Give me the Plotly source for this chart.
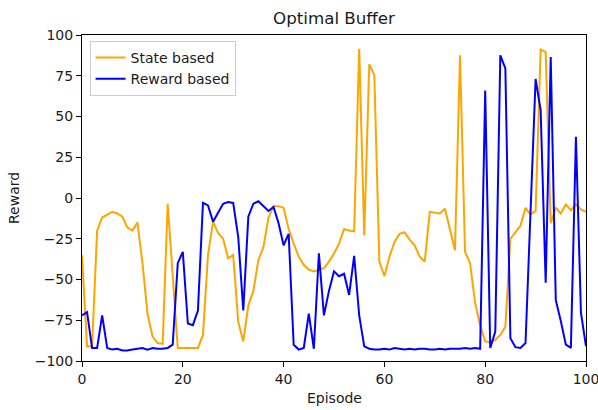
import plotly.graph_objects as go

# Episode index and per-episode reward of the two agents
episodes = list(range(101))

state_based = [
    -35, -91, -91, -20, -12, -10, -8.5, -9.5, -11.5, -18,
    -20, -15, -40, -71, -85, -89, -89.5, -3.5, -50, -92,
    -92, -92, -92, -92, -84, -35, -14.5, -21.5, -25, -37,
    -35, -76, -88, -66, -57, -38, -30, -12, -5, -5,
    -6, -19, -28, -36, -41, -44, -45, -44, -43, -39,
    -34, -28, -19, -20, -20.5, 91.5, -23, 82, 75.5, -39,
    -48, -36, -27, -22, -21, -25.5, -29, -36, -39, -8.5,
    -9, -9.5, -6.5, -20, -32, 87.5, -33, -40, -64.5, -78,
    -88, -88.5, -87, -84, -79, -25, -21, -17, -6, -10,
    -8, 91, 89.5, -15.5, -6, -9.5, -4, -7.5, -4, -7,
    -8.5,
]

reward_based = [
    -72, -70, -92, -92, -72, -92, -93, -92.5, -93.5, -93.5,
    -93, -92.5, -92, -93, -92, -92.5, -92.5, -92, -90, -40,
    -33, -77, -78, -69, -3, -4.5, -14.5, -9, -3.5, -2.5,
    -3, -24, -69, -11.5, -3.5, -2, -5, -8, -5.5, -15.5,
    -29, -22, -90, -93, -92, -71, -92.5, -34, -72, -57,
    -45, -48, -46.5, -59.5, -35.5, -72, -91, -92.5, -93, -93,
    -92.5, -93, -92, -92.5, -93, -92.5, -93, -92.5, -92.5, -93,
    -93, -92.5, -93, -92.5, -92.5, -92.5, -92, -92.5, -92, -92.5,
    66, -92, -82, 87.5, 79.5, -86, -91.5, -92, -89, -5,
    73, 54, -52, 86.5, -62.5, -75.5, -90, -92, 37.5, -70.5,
    -91,
]

x_ticks = [0, 20, 40, 60, 80, 100]
y_ticks = [-100, -75, -50, -25, 0, 25, 50, 75, 100]

FONT = "DejaVu Sans"
TEXT = "#1a1a1a"

fig = go.Figure()
fig.add_trace(go.Scatter(
    x=episodes, y=state_based, mode="lines", name="State based",
    line=dict(color="#FFA500", width=2),
))
fig.add_trace(go.Scatter(
    x=episodes, y=reward_based, mode="lines", name="Reward based",
    line=dict(color="#0000FF", width=2),
))

axis_common = dict(
    showgrid=False, zeroline=False,
    showline=True, linecolor="black", linewidth=1, mirror=True,
    ticks="outside", ticklen=5, tickwidth=1, tickcolor="black",
    tickfont=dict(family=FONT, size=14, color=TEXT),
    ticklabeloverflow="allow", automargin=False,
)

fig.update_layout(
    width=598, height=410,
    margin=dict(l=82, r=12, t=35, b=49),
    paper_bgcolor="white", plot_bgcolor="white",
    font=dict(family=FONT, size=14, color=TEXT),
    xaxis=dict(range=[0, 100], tickvals=x_ticks, **axis_common),
    yaxis=dict(range=[-100, 100], tickvals=y_ticks, **axis_common),
    legend=dict(
        x=0.015, y=0.982, xanchor="left", yanchor="top",
        bgcolor="rgba(255,255,255,0.8)", bordercolor="#cccccc", borderwidth=1,
        font=dict(family=FONT, size=14, color=TEXT),
        itemwidth=30, tracegroupgap=0,
    ),
    showlegend=True,
    annotations=[
        dict(text="Optimal Buffer", xref="paper", yref="paper", x=0.5, y=1,
             yanchor="bottom", yshift=5, showarrow=False,
             font=dict(family=FONT, size=16.7, color=TEXT)),
        dict(text="Episode", xref="paper", yref="paper", x=0.5, y=0,
             yanchor="top", yshift=-27, showarrow=False,
             font=dict(family=FONT, size=14, color=TEXT)),
        dict(text="Reward", xref="paper", yref="paper", x=0, y=0.5,
             xanchor="right", xshift=-58, textangle=-90, showarrow=False,
             font=dict(family=FONT, size=14, color=TEXT)),
    ],
)

fig.write_html("out.html")
